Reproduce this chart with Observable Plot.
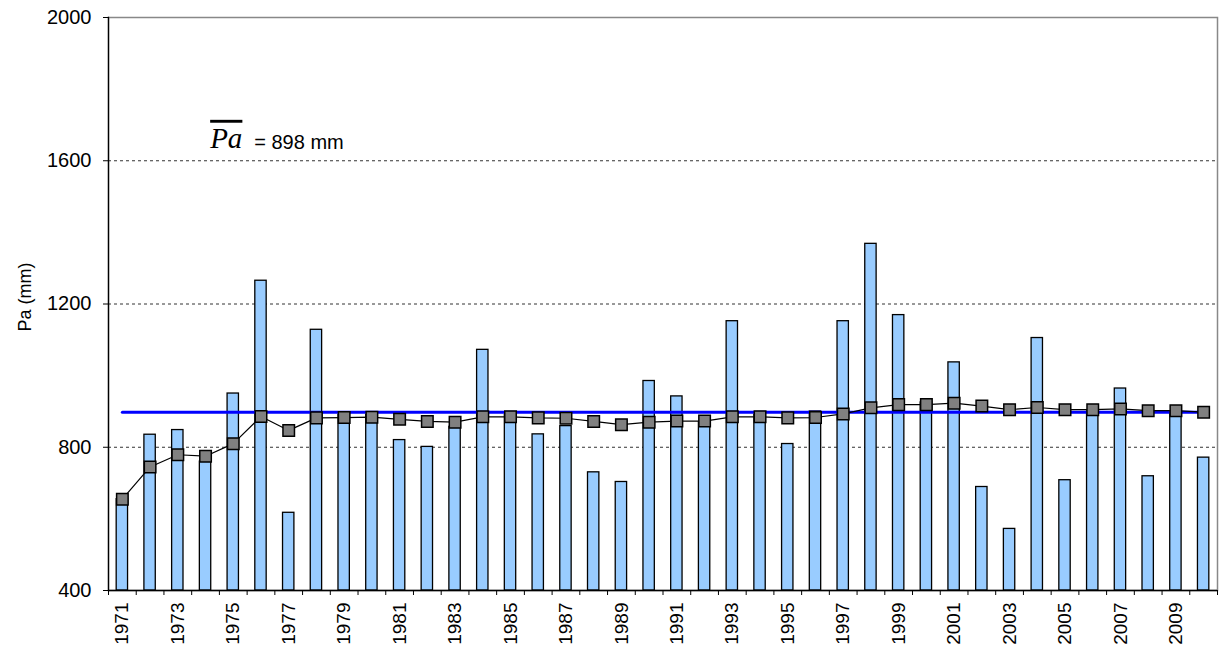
<!DOCTYPE html>
<html><head><meta charset="utf-8">
<script src="https://cdn.jsdelivr.net/npm/d3@7"></script>
<script src="https://cdn.jsdelivr.net/npm/@observablehq/plot@0.6"></script>
<style>body{margin:0;background:#fff} svg{display:block}</style>
</head><body><div id="chart"></div>
<script>
const years = [1971,1972,1973,1974,1975,1976,1977,1978,1979,1980,1981,1982,1983,1984,1985,1986,1987,1988,1989,1990,
               1991,1992,1993,1994,1995,1996,1997,1998,1999,2000,2001,2002,2003,2004,2005,2006,2007,2008,2009,2010];
const precip = [655,835,848,760,950,1265,617,1128,890,890,820,801,857,1072,890,836,859,730,703,985,
                942,870,1152,890,809,900,1152,1368,1169,925,1037,689,572,1105,708,900,964,719,900,771];
const cumMean = [655,745,779,775,810,886,847,882,883,884,878,872,870,885,885,882,881,872,863,870,
                 873,873,885,885,882,883,893,910,919,919,923,915,905,911,905,905,907,902,902,898];
const meanPa = 898;
const yTicks = [400,800,1200,1600,2000];
const gridValues = [800,1200,1600];
const yearLabels = years.filter((d,i)=> i%2===0);
const yLabel = "Pa (mm)";
const meanSymbol = "Pa";
const meanText = "= " + meanPa + " mm";

const W=1220,H=655, mL=108, mR=3, mT=17, mB=65;
const halfStep = (W-mL-mR)/years.length/2;
const rows = years.map((y,i)=>({year:y, pa:precip[i], cum:cumMean[i]}));
const font = "'Liberation Sans', Arial, sans-serif";
const fmt = d => String(d);

const chart = Plot.plot({
  width:W, height:H, marginLeft:mL, marginRight:mR, marginTop:mT, marginBottom:mB,
  style:{fontFamily: font, fontSize:"18px", color:"#000", background:"#fff"},
  x:{type:"band", domain: years, paddingInner:0.59, paddingOuter:0.295, round:false, axis:null},
  y:{domain:[400,2000], axis:null},
  marks:[
    Plot.frame({stroke:"#888", strokeWidth:1.5}),
    Plot.ruleY(gridValues,{stroke:"#333", strokeDasharray:"3,3"}),
    Plot.barY(rows,{x:"year", y1:400, y2:"pa", fill:"#99ccff", stroke:"#000", strokeWidth:1.3}),
    Plot.line(rows,{x:"year", y:()=>meanPa, stroke:"#0000ff", strokeWidth:3}),
    Plot.line(rows,{x:"year", y:"cum", stroke:"#000", strokeWidth:1.2}),
    Plot.dot(rows,{x:"year", y:"cum", symbol:"square", r:6.5, fill:"#808080", stroke:"#000", strokeWidth:1.5}),
    Plot.ruleY([400],{stroke:"#000", strokeWidth:1.3}),
    Plot.frame({anchor:"left", stroke:"#000", strokeWidth:1.3}),
    Plot.axisY({ticks:yTicks, tickFormat:fmt, tickSize:5, tickPadding:12, fontSize:20, label:null}),
    Plot.axisX({ticks:yearLabels, tickFormat:fmt, tickSize:0, tickRotate:-90, tickPadding:12, fontSize:19, label:null}),
    Plot.axisX({ticks:years, tickSize:5, tickFormat:()=>"", dx:halfStep, label:null}),
    Plot.axisX({ticks:[years[0]], tickSize:5, tickFormat:()=>"", dx:-halfStep, label:null}),
    Plot.text([yLabel],{frameAnchor:"left", textAnchor:"middle", dx:-83, dy:-7, rotate:-90, fontSize:18, className:"ylab"}),
    Plot.text([meanSymbol],{x:()=>1975, y:()=>1662, dx:-7, fontSize:29, fontStyle:"italic", fontFamily:"'Liberation Serif', 'Times New Roman', serif", className:"pabar"}),
    Plot.text([meanText],{x:()=>1975, y:()=>1652, dx:21, textAnchor:"start", fontSize:20, className:"meantxt"})
  ]
});
d3.select(chart).selectAll(".pabar text").style("text-decoration","overline").style("font-size","29px");
d3.select(chart).selectAll(".ylab text").style("font-size","18px");
d3.select(chart).selectAll(".meantxt text").style("font-size","20px");
document.getElementById("chart").appendChild(chart);
</script>
</body></html>
